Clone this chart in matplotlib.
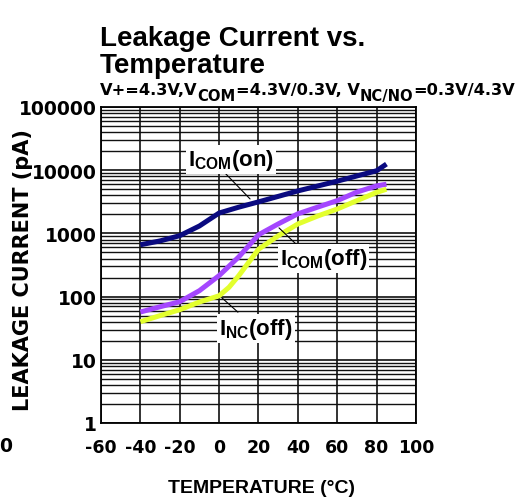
import matplotlib.pyplot as plt
import numpy as np

# data
temp_on = [-40, -30, -20, -10, 0, 10, 20, 40, 60, 80, 85]
icom_on = [660, 760, 920, 1310, 2100, 2600, 3150, 4700, 6700, 9800, 12500]

temp_off = [-40, -30, -20, -10, 0, 10, 20, 30, 40, 50, 60, 70, 80, 85]
icom_off = [57, 69, 83, 124, 215, 425, 950, 1410, 2040, 2600, 3300, 4500, 5650, 6000]

temp_nc = [-40, -30, -20, -10, 0, 5, 10, 20, 30, 40, 50, 60, 70, 80, 85]
inc_off = [40, 50, 62, 82, 103, 140, 215, 560, 915, 1410, 1880, 2430, 3300, 4450, 5000]

x_ticks = [-60, -40, -20, 0, 20, 40, 60, 80, 100]
y_ticks = [1, 10, 100, 1000, 10000, 100000]

fig = plt.figure(figsize=(5.31, 5.02), dpi=100)
ax = fig.add_axes([0.1902, 0.1554, 0.5932, 0.6295])

ax.plot(temp_on, icom_on, color='#0a0a80', lw=3.6, solid_capstyle='butt', zorder=3)
ax.plot(temp_off, icom_off, color='#a447ff', lw=3.6, solid_capstyle='butt', zorder=3)
ax.plot(temp_nc, inc_off, color='#e3ff2e', lw=3.6, solid_capstyle='butt', zorder=3)

ax.set_yscale('log')
ax.set_xlim(-60, 100)
ax.set_ylim(1, 100000)
ax.set_xticks(x_ticks)
ax.set_xticklabels([str(t) for t in x_ticks])
ax.set_yticks(y_ticks)
ax.set_yticklabels([str(t) for t in y_ticks])
ax.grid(True, which='major', color='#111111', lw=1.2)
ax.grid(True, which='minor', axis='y', color='#111111', lw=1.0)
ax.tick_params(which='both', length=0)
ax.tick_params(axis='x', pad=11)
ax.tick_params(axis='y', pad=3)
for lab in ax.get_xticklabels():
    lab.set_fontfamily('DejaVu Sans')
    lab.set_fontweight('bold')
    lab.set_fontsize(12.5)
for lab in ax.get_yticklabels():
    lab.set_fontfamily('DejaVu Sans')
    lab.set_fontweight('bold')
    lab.set_fontsize(13.5)
for sp in ax.spines.values():
    sp.set_linewidth(1.3)
ax.set_axisbelow(True)

# curve labels
box = dict(facecolor='white', edgecolor='none', pad=1.5)
lbl = dict(fontsize=16, fontweight='bold', family='Liberation Sans', zorder=5, bbox=box,
           va='center', ha='left')
line = dict(arrowstyle='-', color='black', lw=0.8)
ax.text(-15.8, 14500, r'I$_{\mathregular{COM}}$(on)', **lbl)
ax.annotate('', xy=(16.7, 3260), xytext=(2.0, 9700), arrowprops=line, zorder=4)
ax.text(30.9, 394, r'I$_{\mathregular{COM}}$(off)', **lbl)
ax.annotate('', xy=(40.6, 610), xytext=(29.4, 1310), arrowprops=line, zorder=4)
ax.text(0, 31.8, r'I$_{\mathregular{NC}}$(off)', **lbl)
ax.annotate('', xy=(10.6, 53), xytext=(0.4, 102), arrowprops=line, zorder=4)

# titles
fig.text(0.188, 0.908, 'Leakage Current vs.', fontsize=20, fontweight='bold',
         family='Liberation Sans', va='baseline')
fig.text(0.188, 0.855, 'Temperature', fontsize=20, fontweight='bold',
         family='Liberation Sans', va='baseline')

renderer = fig.canvas.get_renderer()
sub_parts = [('V+=4.3V,V', 0, 11.7), ('COM', -6 / 502, 10.6), ('=4.3V/0.3V, V', 0, 11.7),
             ('NC/NO', -6 / 502, 10.6), ('=0.3V/4.3V', 0, 11.7)]
x = 100 / 531
for s, dy, size in sub_parts:
    t = fig.text(x, 0.811 + dy, s, fontsize=size, fontweight='bold',
                 family='DejaVu Sans', va='baseline')
    x = t.get_window_extent(renderer).x1 / fig.bbox.width

fig.text(23 / 531, 1 - 270 / 502, 'LEAKAGE CURRENT (pA)', rotation=90, fontsize=15,
         fontweight='bold', family='DejaVu Sans', ha='center', va='center')
fig.text(261 / 531, 1 - 489 / 502, 'TEMPERATURE (°C)', fontsize=14,
         fontweight='bold', family='Liberation Sans', ha='center', va='center')
fig.text(6 / 531, 1 - 447 / 502, '0', fontsize=13.5, fontweight='bold',
         family='DejaVu Sans', ha='center', va='center')

plt.savefig('out.png', dpi=100)
